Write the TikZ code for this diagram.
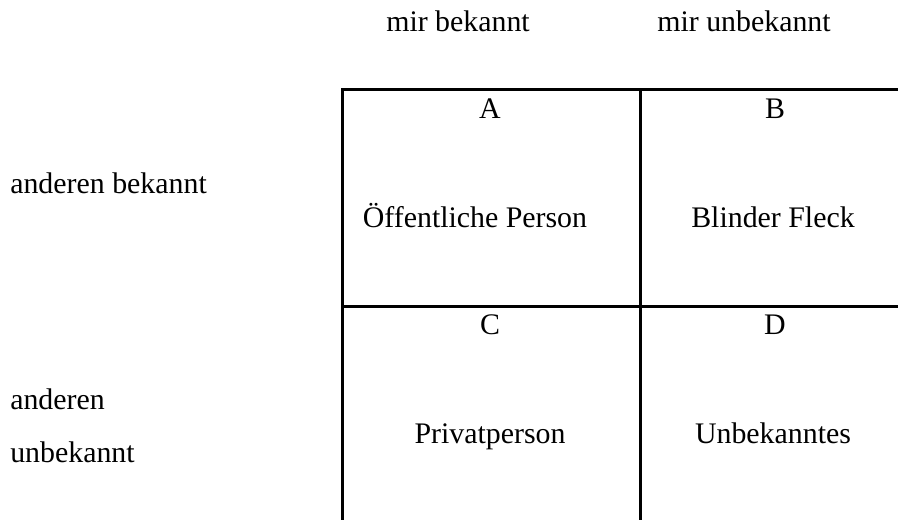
\documentclass[tikz,border=0pt]{standalone}
\usepackage{fontspec}
\setmainfont{Liberation Serif}
\begin{document}
\begin{tikzpicture}[x=0.75pt,y=-0.75pt,
  label/.style={font=\fontsize{22.4}{26}\selectfont, inner sep=0pt, anchor=base},
  rowlabel/.style={label, anchor=base west},
  gridline/.style={line width=2.25pt, line join=miter}]
  \useasboundingbox (0,0) rectangle (898,519);
  \begin{scope}
    \clip (0,0) rectangle (898,519);
    % frame of the window (open to the right and bottom)
    \draw[gridline] (342,530) -- (342,89) -- (910,89);
    \draw[gridline] (640,89) -- (640,530);
    \draw[gridline] (342,306) -- (910,306);
  \end{scope}
  % column headings
  \node[label] (colA) at (458,31) {mir bekannt};
  \node[label] (colB) at (744,31) {mir unbekannt};
  % row headings
  \node[rowlabel] (rowA) at (10,193) {anderen bekannt};
  \node[rowlabel] (rowB1) at (10,409) {anderen};
  \node[rowlabel] (rowB2) at (10,462) {unbekannt};
  % quadrant letters
  \node[label] (lA) at (490,118) {A};
  \node[label] (lB) at (775,118) {B};
  \node[label] (lC) at (490,334) {C};
  \node[label] (lD) at (775,334) {D};
  % quadrant names
  \node[label] (qA) at (475,227) {Öffentliche Person};
  \node[label] (qB) at (773,227) {Blinder Fleck};
  \node[label] (qC) at (490,443) {Privatperson};
  \node[label] (qD) at (773,443) {Unbekanntes};
\end{tikzpicture}
\end{document}
